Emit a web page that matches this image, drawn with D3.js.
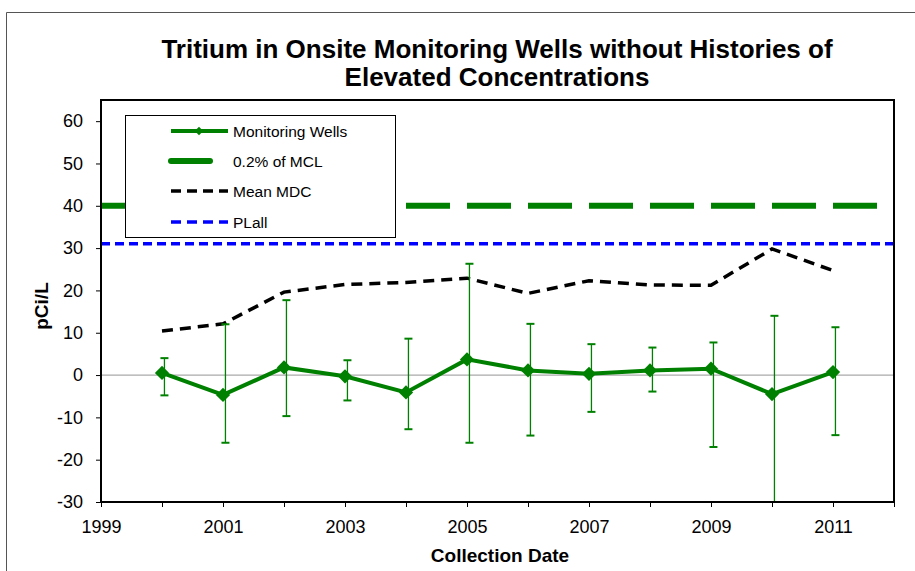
<!DOCTYPE html>
<html>
<head>
<meta charset="utf-8">
<script src="https://cdn.jsdelivr.net/npm/d3@7"></script>
<style>
  body { margin: 0; background: #fff; }
  text { font-family: "Liberation Sans", Arial, sans-serif; }
</style>
</head>
<body>
<script>
// data
var years = [2000, 2001, 2002, 2003, 2004, 2005, 2006, 2007, 2008, 2009, 2010, 2011];
var wells = [0.5, -4.7, 1.8, -0.3, -4.1, 3.7, 1.1, 0.3, 1.1, 1.5, -4.5, 0.7];
var errHigh = [4.0, 12.0, 17.7, 3.5, 8.6, 26.3, 12.1, 7.3, 6.5, 7.7, 14.0, 11.3];
var errLow = [-4.8, -16.0, -9.7, -6.0, -12.8, -16.0, -14.3, -8.7, -3.9, -17.0, -30.0, -14.2];
var meanMDC = [10.4, 12.1, 19.6, 21.4, 21.9, 22.9, 19.3, 22.3, 21.3, 21.2, 29.8, 24.7];
var mclLevel = 40;
var plallLevel = 31;
var yTicks = [-30, -20, -10, 0, 10, 20, 30, 40, 50, 60];
var xTickLabels = [1999, 2001, 2003, 2005, 2007, 2009, 2011];
var legendNames = ["Monitoring Wells", "0.2% of MCL", "Mean MDC", "PLall"];

var W = 915, H = 571;
var plot = { left: 101, top: 100, right: 894, bottom: 502 };

var svg = d3.select("body").append("svg")
    .attr("width", W)
    .attr("height", H);

// outer chart frame
svg.append("path")
    .attr("d", "M6.5," + H + "V12.5H" + W)
    .attr("fill", "none")
    .attr("stroke", "#555")
    .attr("stroke-width", 1);

var x = d3.scaleLinear().domain([1999, 2012]).range([plot.left, plot.right]);
var y = d3.scaleLinear().domain([-30, 65]).range([plot.bottom, plot.top]);

// title
var title = svg.append("text")
    .attr("text-anchor", "middle")
    .attr("font-size", 26)
    .attr("font-weight", "bold");
title.append("tspan").attr("x", 497).attr("y", 58)
    .text("Tritium in Onsite Monitoring Wells without Histories of");
title.append("tspan").attr("x", 497).attr("y", 86)
    .text("Elevated Concentrations");

svg.append("clipPath").attr("id", "plotclip")
  .append("rect")
    .attr("x", plot.left).attr("y", plot.top)
    .attr("width", plot.right - plot.left).attr("height", plot.bottom - plot.top);

var g = svg.append("g").attr("clip-path", "url(#plotclip)");

// zero line
g.append("line")
    .attr("x1", plot.left).attr("x2", plot.right)
    .attr("y1", y(0)).attr("y2", y(0))
    .attr("stroke", "#aaa")
    .attr("stroke-width", 1.2);

// 0.2% of MCL
g.append("line")
    .attr("x1", plot.left).attr("x2", plot.right)
    .attr("y1", y(mclLevel)).attr("y2", y(mclLevel))
    .attr("stroke", "#008000")
    .attr("stroke-width", 6)
    .attr("stroke-dasharray", "44,17");

// PLall
g.append("line")
    .attr("x1", plot.left).attr("x2", plot.right)
    .attr("y1", y(plallLevel)).attr("y2", y(plallLevel))
    .attr("stroke", "#0000ff")
    .attr("stroke-width", 3.5)
    .attr("stroke-dasharray", "9,5");

// mean MDC
var mdcLine = d3.line()
    .x(function (d, i) { return x(years[i]); })
    .y(function (d) { return y(d); });
g.append("path")
    .datum(meanMDC)
    .attr("d", mdcLine)
    .attr("fill", "none")
    .attr("stroke", "#000")
    .attr("stroke-width", 3.5)
    .attr("stroke-dasharray", "11,7");

// error bars
var errX = function (i) { return x(years[i] + 0.04); };
var eb = g.selectAll(".eb")
    .data(years)
    .enter()
    .append("g")
    .attr("class", "eb");
eb.append("line")
    .attr("x1", function (d, i) { return errX(i); })
    .attr("x2", function (d, i) { return errX(i); })
    .attr("y1", function (d, i) { return y(errHigh[i]); })
    .attr("y2", function (d, i) { return y(errLow[i]); })
    .attr("stroke", "#008000")
    .attr("stroke-width", 1.3);
eb.append("line")
    .attr("x1", function (d, i) { return errX(i) - 4; })
    .attr("x2", function (d, i) { return errX(i) + 4; })
    .attr("y1", function (d, i) { return y(errHigh[i]); })
    .attr("y2", function (d, i) { return y(errHigh[i]); })
    .attr("stroke", "#008000")
    .attr("stroke-width", 2);
eb.append("line")
    .attr("x1", function (d, i) { return errX(i) - 4; })
    .attr("x2", function (d, i) { return errX(i) + 4; })
    .attr("y1", function (d, i) { return y(errLow[i]); })
    .attr("y2", function (d, i) { return y(errLow[i]); })
    .attr("stroke", "#008000")
    .attr("stroke-width", 2);

// monitoring wells
var wellLine = d3.line()
    .x(function (d, i) { return x(years[i]); })
    .y(function (d) { return y(d); });
g.append("path")
    .datum(wells)
    .attr("d", wellLine)
    .attr("fill", "none")
    .attr("stroke", "#008000")
    .attr("stroke-width", 4);

var diamond = d3.symbol().type(d3.symbolDiamond2).size(130);
g.selectAll(".pt")
    .data(wells)
    .enter()
    .append("path")
    .attr("class", "pt")
    .attr("d", diamond)
    .attr("transform", function (d, i) { return "translate(" + x(years[i]) + "," + y(d) + ")"; })
    .attr("fill", "#008000");

// plot border
svg.append("rect")
    .attr("x", plot.left).attr("y", plot.top)
    .attr("width", plot.right - plot.left).attr("height", plot.bottom - plot.top)
    .attr("fill", "none")
    .attr("stroke", "#000")
    .attr("stroke-width", 2);

// axes
var yAxis = d3.axisLeft(y).tickValues(yTicks).tickSize(5).tickPadding(13)
    .tickFormat(function (d) { return String(d); });
var yg = svg.append("g").attr("transform", "translate(" + plot.left + ",0)").call(yAxis);
yg.select(".domain").remove();
yg.selectAll("text").attr("font-size", 18).attr("font-family", "Liberation Sans, Arial, sans-serif").attr("fill", "#000");

var xAxis = d3.axisBottom(x)
    .tickValues(d3.range(1999, 2013))
    .tickSize(5)
    .tickPadding(13)
    .tickFormat(function (d) { return xTickLabels.indexOf(d) >= 0 ? String(d) : ""; });
var xg = svg.append("g").attr("transform", "translate(0," + plot.bottom + ")").call(xAxis);
xg.select(".domain").remove();
xg.selectAll("text").attr("font-size", 18).attr("font-family", "Liberation Sans, Arial, sans-serif").attr("fill", "#000");

// axis titles
svg.append("text")
    .attr("transform", "translate(48,306) rotate(-90)")
    .attr("text-anchor", "middle")
    .attr("font-size", 19)
    .attr("font-weight", "bold")
    .text("pCi/L");
svg.append("text")
    .attr("x", 500)
    .attr("y", 562)
    .attr("text-anchor", "middle")
    .attr("font-size", 19)
    .attr("font-weight", "bold")
    .text("Collection Date");

// legend
var lg = svg.append("g").attr("transform", "translate(125,115)");
lg.append("rect")
    .attr("x", 0.5).attr("y", 0.5)
    .attr("width", 270).attr("height", 122)
    .attr("fill", "#fff")
    .attr("stroke", "#000")
    .attr("stroke-width", 1);

var rows = [16, 46, 76, 107];
var items = lg.selectAll(".item")
    .data(legendNames)
    .enter()
    .append("g")
    .attr("class", "item")
    .attr("transform", function (d, i) { return "translate(0," + rows[i] + ")"; });

items.append("text")
    .attr("x", 108)
    .attr("y", 5.5)
    .attr("font-size", 15.5)
    .text(function (d) { return d; });

var it = items.nodes();
d3.select(it[0]).append("line")
    .attr("x1", 46).attr("x2", 103).attr("y1", 0).attr("y2", 0)
    .attr("stroke", "#008000").attr("stroke-width", 4);
d3.select(it[0]).append("path")
    .attr("d", d3.symbol().type(d3.symbolDiamond2).size(45))
    .attr("transform", "translate(74,0)")
    .attr("fill", "#008000");
d3.select(it[1]).append("line")
    .attr("x1", 46).attr("x2", 85).attr("y1", 0).attr("y2", 0)
    .attr("stroke", "#008000").attr("stroke-width", 6).attr("stroke-linecap", "round");
d3.select(it[2]).append("line")
    .attr("x1", 46).attr("x2", 103).attr("y1", 0).attr("y2", 0)
    .attr("stroke", "#000").attr("stroke-width", 3.5).attr("stroke-dasharray", "10,6");
d3.select(it[3]).append("line")
    .attr("x1", 46).attr("x2", 103).attr("y1", 0).attr("y2", 0)
    .attr("stroke", "#0000ff").attr("stroke-width", 3.5).attr("stroke-dasharray", "10,6");
</script>
</body>
</html>
